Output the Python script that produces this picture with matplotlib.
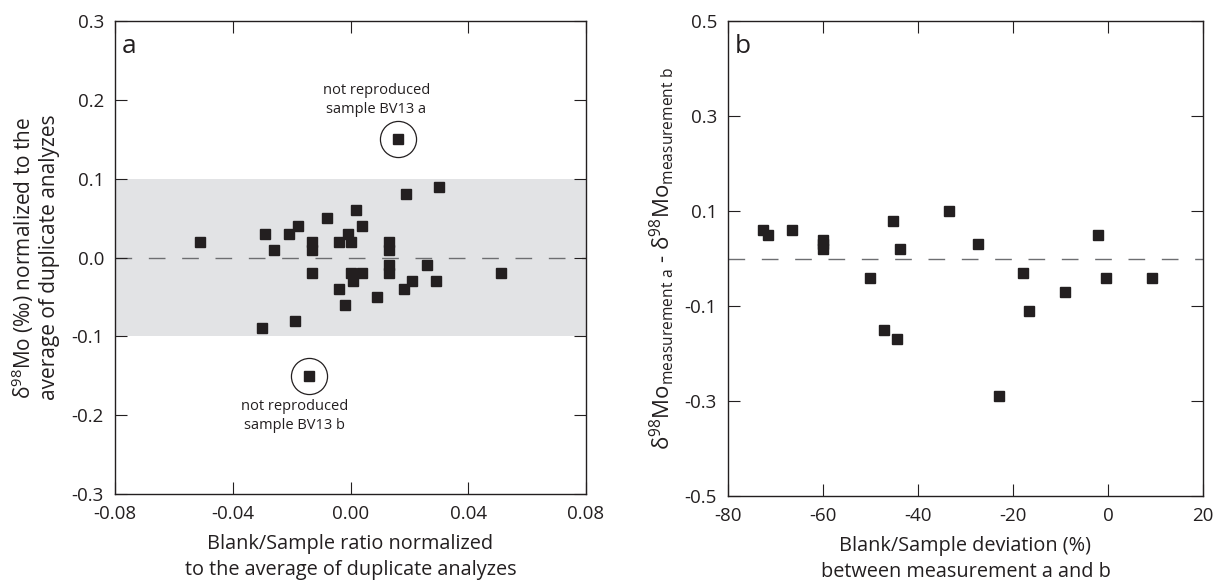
import matplotlib
matplotlib.use("Agg")
import matplotlib.pyplot as plt
import numpy as np

plt.rcParams['font.family'] = ['Open Sans', 'DejaVu Sans']
plt.rcParams['mathtext.fontset'] = 'custom'
plt.rcParams['mathtext.rm'] = 'Open Sans'
plt.rcParams['mathtext.it'] = 'Open Sans:italic'
plt.rcParams['axes.unicode_minus'] = False

INK = '#231f20'

# panel a: blank/sample ratio vs normalized d98Mo
ratio_a = [-0.051, -0.029, -0.026, -0.021, -0.018, -0.013, -0.013, -0.013,
           -0.008, -0.004, -0.001, 0.000, 0.002, 0.004, 0.013, 0.013,
           0.019, 0.030, 0.000, 0.004, 0.001, 0.013, 0.013, 0.026,
           0.021, 0.029, 0.018, -0.004, 0.009, -0.002, 0.051, -0.019, -0.030]
mo_a = [0.02, 0.03, 0.01, 0.03, 0.04, 0.02, 0.01, -0.02,
        0.05, 0.02, 0.03, 0.02, 0.06, 0.04, 0.02, 0.01,
        0.08, 0.09, -0.02, -0.02, -0.03, -0.01, -0.02, -0.01,
        -0.03, -0.03, -0.04, -0.04, -0.05, -0.06, -0.02, -0.08, -0.09]
outlier_x = [0.016, -0.014]
outlier_y = [0.15, -0.15]
outlier_names = ['not reproduced\nsample BV13 a', 'not reproduced\nsample BV13 b']

# panel b: blank/sample deviation vs difference between measurements
dev_b = [-72.6, -71.5, -66.6, -60.1, -60.1, -60.1, -50.1, -47.2, -45.2, -44.4,
         -43.7, -33.4, -27.4, -22.9, -17.9, -16.7, -9.1, -2.1, -0.5, 9.3]
diff_b = [0.06, 0.05, 0.06, 0.04, 0.03, 0.02, -0.04, -0.15, 0.08, -0.17,
          0.02, 0.10, 0.03, -0.29, -0.03, -0.11, -0.07, 0.05, -0.04, -0.04]

xticks_a = [-0.08, -0.04, 0.00, 0.04, 0.08]
yticks_a = [0.3, 0.2, 0.1, 0.0, -0.1, -0.2, -0.3]
xticks_b = [-80, -60, -40, -20, 0, 20]
yticks_b = [0.5, 0.3, 0.1, -0.1, -0.3, -0.5]


def style_axes(ax):
    for s in ax.spines.values():
        s.set_linewidth(1.0)
        s.set_color(INK)
    ax.tick_params(direction='in', length=8.5, width=0.8, color=INK,
                   top=True, right=True, labelsize=13.5, labelcolor=INK, pad=8)


fig = plt.figure(figsize=(12.26, 5.87), dpi=100)
ax1 = fig.add_axes([0.0938, 0.1584, 0.3842, 0.8058])
ax2 = fig.add_axes([0.5938, 0.155, 0.3874, 0.809])

# ---- panel a
ax1.axhspan(-0.1, 0.1, color='#e2e3e5', lw=0, zorder=0)
ax1.axhline(0, color='#6d6e71', lw=1.0, linestyle=(0, (12, 12)), zorder=1)
ax1.plot(ratio_a, mo_a, 's', color=INK, ms=6.5, zorder=3)
ax1.plot(outlier_x, outlier_y, 's', color=INK, ms=6.5, zorder=3)
ax1.plot(outlier_x, outlier_y, 'o', mfc='none', mec=INK, mew=0.9, ms=26, zorder=3)
ax1.text(0.0087, 0.20, outlier_names[0], ha='center', va='center',
         fontsize=10.5, color=INK, linespacing=1.35)
ax1.text(-0.0189, -0.201, outlier_names[1], ha='center', va='center',
         fontsize=10.5, color=INK, linespacing=1.35)
ax1.set_xlim(-0.08, 0.08)
ax1.set_ylim(-0.3, 0.3)
ax1.set_xticks(xticks_a)
ax1.set_xticklabels(['{:.2f}'.format(v) for v in xticks_a])
ax1.set_yticks(yticks_a)
ax1.set_yticklabels(['{:.1f}'.format(v) for v in yticks_a])
style_axes(ax1)
ax1.set_xlabel('Blank/Sample ratio normalized\nto the average of duplicate analyzes',
               fontsize=14.3, color=INK, labelpad=8, linespacing=1.4)
ax1.set_ylabel('δ$^{98}$Mo (‰) normalized to the\naverage of duplicate analyzes',
               fontsize=15, color=INK, labelpad=8, linespacing=1.2)
ax1.text(0.015, 0.972, 'a', transform=ax1.transAxes, ha='left', va='top',
         fontsize=19, color=INK)

# ---- panel b
ax2.axhline(0, color='#6d6e71', lw=1.0, linestyle=(0, (12, 12)), zorder=1)
ax2.plot(dev_b, diff_b, 's', color=INK, ms=6.5, zorder=3)
ax2.set_xlim(-80, 20)
ax2.set_ylim(-0.5, 0.5)
ax2.set_xticks(xticks_b)
ax2.set_xticklabels([str(v) for v in xticks_b])
ax2.set_yticks(yticks_b)
ax2.set_yticklabels(['{:.1f}'.format(v) for v in yticks_b])
style_axes(ax2)
ax2.set_xlabel('Blank/Sample deviation (%)\nbetween measurement a and b',
               fontsize=14.3, color=INK, labelpad=8, linespacing=1.4)
ax2.set_ylabel(r'δ$^{98}$Mo$_{\mathrm{measurement\ a}}$ - δ$^{98}$Mo$_{\mathrm{measurement\ b}}$',
               fontsize=16, color=INK, labelpad=6)
ax2.text(0.015, 0.972, 'b', transform=ax2.transAxes, ha='left', va='top',
         fontsize=19, color=INK)

fig.savefig('out.png', dpi=100)
